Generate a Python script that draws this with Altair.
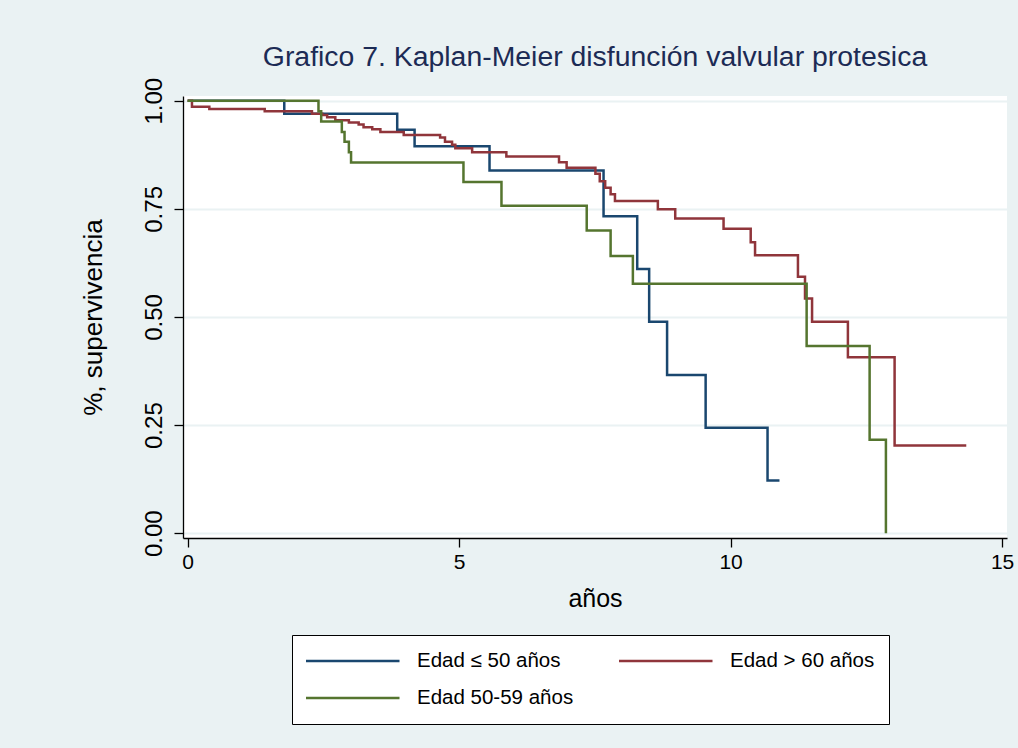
import altair as alt
import pandas as pd

# ---- data (Kaplan-Meier step curves) ----
groups = ["Edad ≤ 50 años", "Edad > 60 años", "Edad 50-59 años"]
colors = ["#1A476F", "#90353B", "#55752F"]

blue_t = [0, 1.78, 3.86, 4.18, 5.56, 7.66, 8.28, 8.50, 8.83, 9.54, 10.68, 10.90]
blue_s = [1.0, 0.970, 0.933, 0.895, 0.839, 0.733, 0.611, 0.489, 0.366, 0.244, 0.122, 0.122]

red_t = [0, 0.08, 0.40, 1.42, 2.29, 2.48, 2.57, 2.72, 2.97, 3.15, 3.24, 3.40, 3.55,
         3.98, 4.65, 4.74, 4.87, 4.93, 5.24, 5.87, 6.84, 6.98, 7.51, 7.59, 7.69,
         7.79, 7.87, 8.66, 8.98, 9.87, 10.37, 10.45, 11.24, 11.37, 11.50, 12.16,
         13.02, 14.34]
red_s = [1.0, 0.986, 0.981, 0.976, 0.970, 0.967, 0.962, 0.955, 0.950, 0.945, 0.939,
         0.934, 0.928, 0.921, 0.915, 0.905, 0.898, 0.890, 0.881, 0.871, 0.858, 0.845,
         0.831, 0.814, 0.799, 0.784, 0.768, 0.749, 0.728, 0.704, 0.673, 0.643, 0.593,
         0.543, 0.489, 0.407, 0.203, 0.203]

green_t = [0, 2.41, 2.46, 2.84, 2.89, 2.97, 3.01, 5.08, 5.78, 7.35, 7.79, 8.20,
           11.40, 12.56, 12.86]
green_s = [1.0, 0.976, 0.952, 0.928, 0.905, 0.881, 0.857, 0.812, 0.757, 0.700,
           0.641, 0.577, 0.433, 0.216, 0.0]

x_ticks = [0, 5, 10, 15]
y_ticks = [0, 0.25, 0.5, 0.75, 1.0]

rows = []
for g, ts, ss in zip(groups, [blue_t, red_t, green_t], [blue_s, red_s, green_s]):
    for i, (t, s) in enumerate(zip(ts, ss)):
        rows.append({"grupo": g, "t": t, "s": s, "ord": i})
df = pd.DataFrame(rows)

FONT = "Liberation Sans"
BG = "#EAF2F3"

chart = alt.Chart(df).mark_line(interpolate="step-after", strokeWidth=2.5).encode(
    x=alt.X("t:Q",
            scale=alt.Scale(domain=[-0.085, 15.09], nice=False, zero=False),
            axis=alt.Axis(values=x_ticks, title="años", grid=False,
                          labelFontSize=21, titleFontSize=25, tickSize=9,
                          labelPadding=4, titlePadding=14)),
    y=alt.Y("s:Q",
            scale=alt.Scale(domain=[-0.011, 1.011], nice=False, zero=False),
            axis=alt.Axis(values=y_ticks, format=".2f", title="%, supervivencia",
                          grid=True, gridColor=BG, gridWidth=2,
                          labelAngle=-90, labelAlign="center", labelBaseline="bottom",
                          labelFontSize=24, titleFontSize=26, tickSize=9,
                          labelPadding=8, titlePadding=36)),
    color=alt.Color("grupo:N",
                    scale=alt.Scale(domain=groups, range=colors),
                    legend=alt.Legend(title=None, orient="none", legendX=109, legendY=539,
                                      direction="horizontal", columns=2, gridAlign="all",
                                      symbolType="stroke", symbolSize=9409,
                                      symbolStrokeWidth=2.5, clipHeight=24,
                                      symbolOffset=-5,
                                      labelFontSize=20.5, labelFont=FONT, labelColor="black",
                                      labelOffset=16, columnPadding=45, rowPadding=13,
                                      padding=14, fillColor="white", strokeColor="black",
                                      labelLimit=400)),
    order="ord:Q",
).properties(
    width=824,
    height=442,
    padding={"left": 183, "top": 96, "right": 11, "bottom": 210},
    autosize=alt.AutoSizeParams(type="none"),
    background=BG,
    title=alt.TitleParams("Grafico 7. Kaplan-Meier disfunción valvular protesica",
                          font=FONT, fontSize=28.4, fontWeight="normal",
                          color="#1C2B55", anchor="middle", frame="group", offset=5),
).configure_view(
    fill="white", stroke=None
).configure_axis(
    labelFont=FONT, titleFont=FONT, labelColor="black", titleColor="black",
    titleFontWeight="normal", domainColor="black", tickColor="black",
    domainWidth=1.3, tickWidth=1.3,
)

chart.save("out.html", embed_options={"renderer": "svg", "actions": False})
